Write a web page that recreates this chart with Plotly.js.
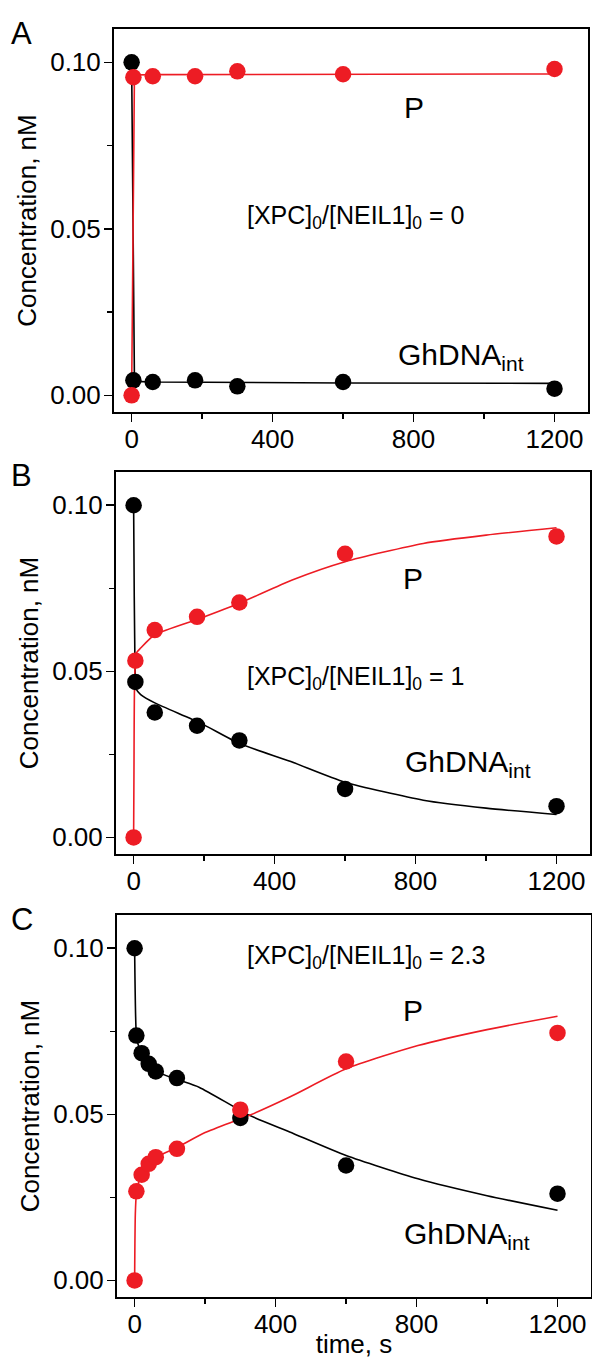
<!DOCTYPE html>
<html><head><meta charset="utf-8">
<script src="https://cdn.plot.ly/plotly-3.0.1.min.js"></script>
<style>html,body{margin:0;padding:0;background:#fff}#chart{width:592px;height:1359px}</style>
</head><body><div id="chart"></div><script>
// ---------- Panel A: [XPC]0/[NEIL1]0 = 0 ----------
const tA      = [0, 5, 60, 180, 300, 600, 1200];
const ghA     = [0.100, 0.0045, 0.0040, 0.0045, 0.0027, 0.0040, 0.0020];
const pA      = [0.000, 0.0955, 0.0958, 0.0958, 0.0973, 0.0964, 0.0980];
const fitTA   = [0, 8, 60, 180, 300, 600, 1200];
const fitGhA  = [0.100, 0.0042, 0.0040, 0.0039, 0.0038, 0.0037, 0.0036];
const fitPA   = [0.000, 0.0962, 0.0963, 0.0963, 0.0964, 0.0965, 0.0965];
// ---------- Panel B: [XPC]0/[NEIL1]0 = 1 ----------
const tB      = [0, 5, 60, 180, 300, 600, 1200];
const ghB     = [0.100, 0.0468, 0.0376, 0.0336, 0.0292, 0.0146, 0.0094];
const pB      = [0.000, 0.0532, 0.0624, 0.0664, 0.0707, 0.0854, 0.0906];
const fitGhTB = [0, 1, 3, 8, 20, 60, 190, 300, 444, 600, 822, 1000, 1200];
const fitGhB  = [0.100, 0.085, 0.060, 0.0445, 0.0430, 0.0405, 0.0344, 0.0283, 0.0229, 0.0166, 0.0112, 0.0088, 0.0069];
const fitPTB  = [0, 1, 3, 8, 20, 60, 190, 300, 450, 600, 822, 1000, 1200];
const fitPB   = [0.000, 0.020, 0.048, 0.0555, 0.0570, 0.0610, 0.0660, 0.0705, 0.0775, 0.0830, 0.0885, 0.0910, 0.0932];
// ---------- Panel C: [XPC]0/[NEIL1]0 = 2.3 ----------
const tC      = [0, 5, 20, 40, 60, 120, 300, 600, 1200];
const ghC     = [0.100, 0.0737, 0.0684, 0.0652, 0.0629, 0.0609, 0.0489, 0.0346, 0.0261];
const pC      = [0.000, 0.0268, 0.0318, 0.0351, 0.0371, 0.0396, 0.0514, 0.0659, 0.0745];
const fitGhTC = [0, 5, 10, 20, 40, 60, 120, 184, 326, 440, 600, 804, 1000, 1200];
const fitGhC  = [0.100, 0.0737, 0.0710, 0.0685, 0.0655, 0.0630, 0.0605, 0.0581, 0.0497, 0.0447, 0.0376, 0.0306, 0.0255, 0.0211];
const fitPTC  = [0, 2, 5, 10, 20, 40, 60, 120, 200, 326, 440, 600, 804, 1000, 1200];
const fitPC   = [0.000, 0.020, 0.026, 0.029, 0.032, 0.035, 0.037, 0.040, 0.0445, 0.0497, 0.0552, 0.0637, 0.0707, 0.0755, 0.0795];

const ratioLabels = ['0', '1', '2.3'];
const panelLetters = ['A', 'B', 'C'];
const xTicks = [0, 400, 800, 1200];
const yTicks = [0.00, 0.05, 0.10];
const yTickText = ['0.00', '0.05', '0.10'];

const RED = '#ED1C24', BLACK = '#000000';
const FONT = 'Liberation Sans, Arial, Helvetica, sans-serif';
const W = 592, H = 1359;

// pixel frames of each panel [left, right, top, bottom]
const frames = [[114, 588, 29, 412], [116, 590, 472, 854], [117, 591, 915, 1297]];

const panels = [
  {t: tA, gh: ghA, p: pA, fgT: fitTA, fg: fitGhA, fpT: fitTA, fp: fitPA},
  {t: tB, gh: ghB, p: pB, fgT: fitGhTB, fg: fitGhB, fpT: fitPTB, fp: fitPB},
  {t: tC, gh: ghC, p: pC, fgT: fitGhTC, fg: fitGhC, fpT: fitPTC, fp: fitPC}
];

const traces = [];
const layout = {
  width: W, height: H,
  margin: {l: 0, r: 0, t: 0, b: 0},
  paper_bgcolor: '#fff', plot_bgcolor: '#fff',
  showlegend: false,
  font: {family: FONT, color: '#000', size: 24},
  annotations: []
};

panels.forEach((pn, i) => {
  const s = i === 0 ? '' : String(i + 1);
  const xa = 'x' + s, ya = 'y' + s;
  const shp = i === 0 ? 'linear' : 'spline';
  traces.push({x: pn.fgT, y: pn.fg, xaxis: xa, yaxis: ya, mode: 'lines', line: {color: BLACK, width: 1.6, shape: shp, smoothing: 0.6}, hoverinfo: 'skip'});
  traces.push({x: pn.fpT, y: pn.fp, xaxis: xa, yaxis: ya, mode: 'lines', line: {color: RED, width: 1.6, shape: shp, smoothing: 0.6}, hoverinfo: 'skip'});
  traces.push({x: pn.t, y: pn.gh, xaxis: xa, yaxis: ya, mode: 'markers', marker: {color: BLACK, size: 16.5}});
  traces.push({x: pn.t, y: pn.p, xaxis: xa, yaxis: ya, mode: 'markers', marker: {color: RED, size: 16.5}});

  const f = frames[i];
  const common = {showline: true, mirror: true, linecolor: '#000', linewidth: 2, showgrid: false, zeroline: false,
                  ticks: 'outside', ticklen: 8, tickwidth: 1.5, tickcolor: '#000',
                  tickfont: {family: FONT, size: 26, color: '#000'}};
  layout['xaxis' + s] = Object.assign({}, common, {
    domain: [f[0] / W, f[1] / W], anchor: ya, range: [-50, 1295],
    tickmode: 'array', tickvals: xTicks, ticktext: xTicks.map(String), ticklabelstandoff: -5,
    minor: {dtick: 200, tick0: 0, ticks: 'outside', ticklen: 5, tickwidth: 1.5, tickcolor: '#000'},
    title: i === 2 ? {text: 'time, s', font: {family: FONT, size: 26}, standoff: 3} : {text: ''}
  });
  layout['yaxis' + s] = Object.assign({}, common, {
    domain: [1 - f[3] / H, 1 - f[2] / H], anchor: xa, range: [-0.005, 0.11],
    tickmode: 'array', tickvals: yTicks, ticktext: yTickText, ticklabelstandoff: -2,
    minor: {dtick: 0.025, tick0: 0, ticks: 'outside', ticklen: 5, tickwidth: 1.5, tickcolor: '#000'},
    title: {text: 'Concentration, nM', font: {family: FONT, size: 26}, standoff: 6}
  });

  layout.annotations.push({xref: 'paper', yref: 'paper', x: 9 / W, y: 1 - (f[2] + 4) / H,
    xanchor: 'left', yanchor: 'middle', text: panelLetters[i], showarrow: false, font: {family: FONT, size: 31}});
});

// text labels inside panels
const ann = (s, x, y, text, size, xanchor) => layout.annotations.push({
  xref: 'x' + s, yref: 'y' + s, x: x, y: y, text: text, showarrow: false,
  xanchor: xanchor || 'center', yanchor: 'middle', font: {family: FONT, size: size, color: '#000'}});

const ratioText = r => '[XPC]<sub>0</sub>/[NEIL1]<sub>0</sub> = ' + r;
// A
ann('', 800, 0.0865, 'P', 30);
ann('', 637, 0.0535, ratioText(ratioLabels[0]), 25);
ann('', 751, 0.0118, 'GhDNA<sub>int</sub>', 30, 'left');
// B
ann('2', 792, 0.078, 'P', 30);
ann('2', 317, 0.048, ratioText(ratioLabels[1]), 25, 'left');
ann('2', 764, 0.0223, 'GhDNA<sub>int</sub>', 30, 'left');
// C
ann('3', 312, 0.0973, ratioText(ratioLabels[2]), 25, 'left');
ann('3', 789, 0.0812, 'P', 30);
ann('3', 760, 0.0136, 'GhDNA<sub>int</sub>', 30, 'left');

Plotly.newPlot('chart', traces, layout, {displayModeBar: false, staticPlot: true});
</script></body></html>
